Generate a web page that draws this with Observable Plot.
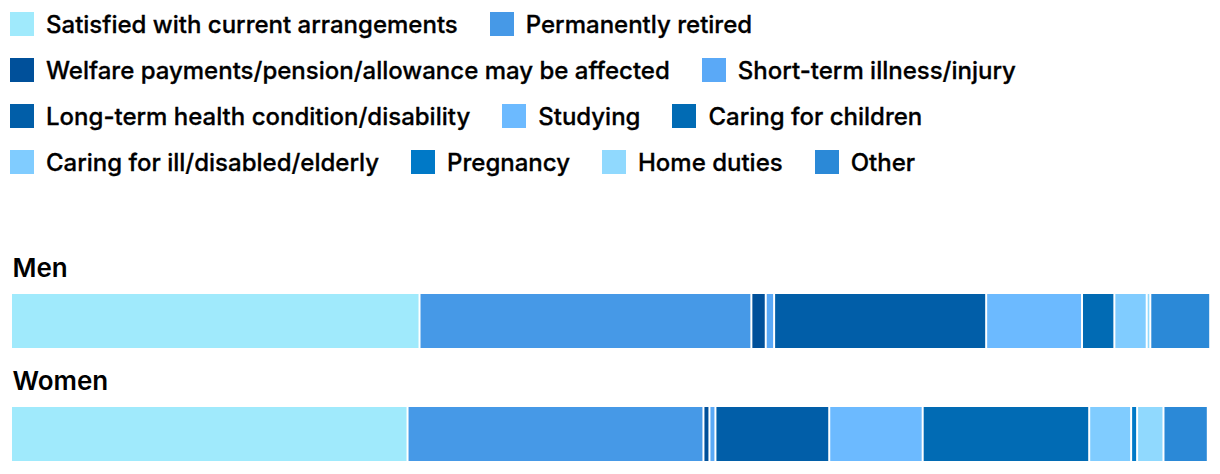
<!DOCTYPE html>
<html>
<head>
<meta charset="utf-8">
<script src="https://cdn.jsdelivr.net/npm/d3@7"></script>
<script src="https://cdn.jsdelivr.net/npm/@observablehq/plot@0.6"></script>
<style>
  html, body { margin: 0; padding: 0; background: #fff; }
  body { width: 1220px; height: 474px; overflow: hidden; font-family: Inter, "Noto Sans", sans-serif; }
  #legend { display: flex; flex-wrap: wrap; row-gap: 22px; column-gap: 32px; padding: 12px 0 0 10px; height: 188px; box-sizing: border-box; align-content: flex-start; }
  .item { display: flex; align-items: center; height: 24px; }
  .sw { width: 24px; height: 24px; margin-right: 12px; flex: none; }
  .lab { font-size: 24px; font-weight: 500; color: #000; white-space: nowrap; letter-spacing: 0; -webkit-text-stroke: 0.3px #000; }
</style>
</head>
<body>
<div id="legend"></div>
<div id="chart"></div>
<script>
const categories = [
  "Satisfied with current arrangements",
  "Permanently retired",
  "Welfare payments/pension/allowance may be affected",
  "Short-term illness/injury",
  "Long-term health condition/disability",
  "Studying",
  "Caring for children",
  "Caring for ill/disabled/elderly",
  "Pregnancy",
  "Home duties",
  "Other"
];
const colors = ["#a0eafc", "#4699e7", "#00509a", "#5aa9f7", "#015ea8", "#6cbaff", "#016bb4", "#80ccff", "#0079c7", "#90d9fe", "#2b89d7"];
const groups = ["Men", "Women"];
const menValues = [34.1, 27.7, 1.2, 0.7, 17.7, 8.0, 2.7, 2.7, 0, 0.3, 5.0];
const womenValues = [33.1, 24.7, 0.5, 0.5, 9.5, 7.8, 13.9, 3.5, 0.5, 2.2, 3.7];

// legend
const legend = document.getElementById("legend");
categories.forEach((c, i) => {
  const it = document.createElement("div");
  it.className = "item";
  const sw = document.createElement("span");
  sw.className = "sw";
  sw.style.background = colors[i];
  const lb = document.createElement("span");
  lb.className = "lab";
  lb.textContent = c;
  it.appendChild(sw); it.appendChild(lb);
  legend.appendChild(it);
});

const rows = [];
[menValues, womenValues].forEach((vals, g) => {
  vals.forEach((v, i) => { if (v > 0) rows.push({group: groups[g], category: categories[i], value: v}); });
});

const chart = Plot.plot({
  width: 1220,
  height: 286,
  style: {fontFamily: "Inter, 'Noto Sans', sans-serif", background: "#fff"},
  x: {domain: [0, 100], range: [11, 1209], axis: null},
  y: {domain: groups, range: [105, 273], paddingInner: 0.5263, paddingOuter: 0, axis: null},
  color: {domain: categories, range: colors},
  marks: [
    Plot.barX(rows, Plot.stackX({x: "value", y: "group", fill: "category", insetLeft: 1, insetRight: 1})),
    Plot.text(groups, {x: () => 0, y: d => d, text: d => d, textAnchor: "start", dx: 1, dy: -53, fontSize: 26, fontWeight: 600, fill: "#000"})
  ]
});
document.getElementById("chart").appendChild(chart);
</script>
</body>
</html>
